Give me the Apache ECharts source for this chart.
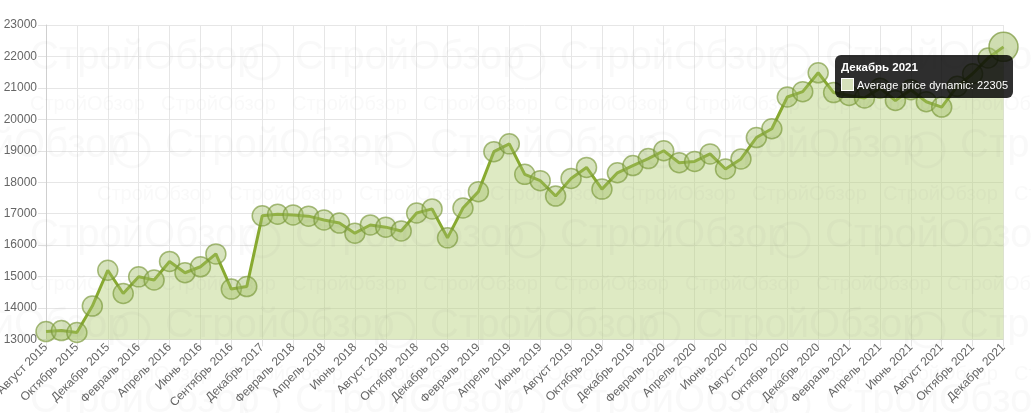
<!DOCTYPE html>
<html>
<head>
<meta charset="utf-8">
<script src="https://cdn.jsdelivr.net/npm/echarts@6/dist/echarts.min.js"></script>
<style>
html,body{margin:0;padding:0;background:#fff;}
#c{width:1031px;height:413px;}
</style>
</head>
<body>
<div id="c"></div>
<script>
var categories = [
 'Август 2015','Сентябрь 2015','Октябрь 2015','Ноябрь 2015','Декабрь 2015','Январь 2016',
 'Февраль 2016','Март 2016','Апрель 2016','Май 2016','Июнь 2016','Июль 2016',
 'Сентябрь 2016','Ноябрь 2016','Декабрь 2017','Январь 2018','Февраль 2018','Март 2018',
 'Апрель 2018','Май 2018','Июнь 2018','Июль 2018','Август 2018','Сентябрь 2018',
 'Октябрь 2018','Ноябрь 2018','Декабрь 2018','Январь 2019','Февраль 2019','Март 2019',
 'Апрель 2019','Май 2019','Июнь 2019','Июль 2019','Август 2019','Сентябрь 2019',
 'Октябрь 2019','Ноябрь 2019','Декабрь 2019','Январь 2020','Февраль 2020','Март 2020',
 'Апрель 2020','Май 2020','Июнь 2020','Июль 2020','Август 2020','Сентябрь 2020',
 'Октябрь 2020','Ноябрь 2020','Декабрь 2020','Январь 2021','Февраль 2021','Март 2021',
 'Апрель 2021','Май 2021','Июнь 2021','Июль 2021','Август 2021','Сентябрь 2021',
 'Октябрь 2021','Ноябрь 2021','Декабрь 2021'
];
var priceValues = [
 13250,13280,13220,14060,15200,14460,14990,14890,15480,15120,15310,15720,
 14600,14680,16930,16980,16960,16920,16800,16700,16380,16640,16570,16450,
 17020,17150,16230,17180,17700,18970,19220,18250,18050,17560,18120,18470,
 17780,18300,18530,18750,19000,18620,18660,18900,18420,18740,19420,19700,
 20710,20880,21480,20850,20760,20680,20990,20600,20940,20560,20390,21050,
 21450,21950,22305
];
var seriesName = 'Average price dynamic';
var yTicks = {min: 13000, max: 23000, step: 1000};
var highlightIndex = 62;

// faint watermark decoration
var wm = [];
var wmColor = 'rgba(110,110,110,0.045)';
var bigRows = [62, 150, 240, 330, 405];
var bigOffsets = [30, -100, 30, -100, 30];
bigRows.forEach(function(y, r){
  for (var x = bigOffsets[r]; x < 1100; x += 265) {
    wm.push({type:'text', left:x, top:y-24, z:100, silent:true,
      style:{text:'СтройОбзор', font:'40px "Liberation Sans", Arial, sans-serif', fill:wmColor}});
    wm.push({type:'circle', z:100, silent:true, shape:{cx:x+232, cy:y, r:17},
      style:{fill:'none', stroke:wmColor, lineWidth:3}});
  }
});
var smallRows = [105, 195, 285, 375];
var smallOffsets = [30, 97, 30, 97];
smallRows.forEach(function(y, r){
  for (var x = smallOffsets[r]; x < 1100; x += 131) {
    wm.push({type:'text', left:x, top:y-11, z:100, silent:true,
      style:{text:'СтройОбзор', font:'20px "Liberation Sans", Arial, sans-serif', fill:wmColor}});
  }
});

var chart = echarts.init(document.getElementById('c'), null, {renderer:'canvas'});
chart.setOption({
  animation: false,
  backgroundColor: '#fff',
  grid: {left: 46, right: 27.5, top: 25, bottom: 73.6, containLabel: false, outerBoundsMode: 'none'},
  tooltip: {
    trigger: 'item',
    alwaysShowContent: true,
    transitionDuration: 0,
    position: [835, 55],
    backgroundColor: 'rgba(0,0,0,0.82)',
    borderWidth: 0,
    borderRadius: 6,
    padding: [5, 5, 5, 6],
    extraCssText: 'box-shadow:none;',
    formatter: function(p){
      return '<div style="font:bold 11.5px Liberation Sans, Arial, sans-serif;color:#fff;line-height:15px;margin-bottom:3px">' + p.name + '</div>' +
        '<div style="font:11px Liberation Sans, Arial, sans-serif;color:#fff;line-height:15px;white-space:nowrap;letter-spacing:0.1px">' +
        '<span style="display:inline-block;width:11px;height:11px;background:#d6e1bb;border:1px solid #fff;vertical-align:-2px;margin-right:3px"></span>' +
        p.seriesName + ': ' + p.value + '</div>';
    }
  },
  xAxis: {
    type: 'category',
    data: categories,
    boundaryGap: false,
    axisLine: {show: true, lineStyle: {color: '#dcdcdc', width: 1}},
    axisTick: {show: true, interval: 1, length: 7, lineStyle: {color: '#e2e2e2'}},
    axisLabel: {interval: 1, rotate: 45, color: '#666', fontSize: 12,
      fontFamily: 'Liberation Sans, Arial, sans-serif', margin: 6},
    splitLine: {show: true, interval: 1, lineStyle: {color: '#e6e6e6', width: 1}}
  },
  yAxis: {
    type: 'value',
    min: yTicks.min, max: yTicks.max, interval: yTicks.step,
    axisLine: {show: true, lineStyle: {color: '#cfcfcf'}},
    axisTick: {show: true, length: 8, lineStyle: {color: '#e2e2e2'}},
    axisLabel: {color: '#666', fontSize: 12, fontFamily: 'Liberation Sans, Arial, sans-serif', margin: 9,
      formatter: function(v){ return String(v); }},
    splitLine: {show: true, lineStyle: {color: '#e6e6e6', width: 1}}
  },
  graphic: wm,
  series: [{
    name: seriesName,
    type: 'line',
    data: priceValues,
    smooth: false,
    symbol: 'circle',
    symbolSize: 20,
    showAllSymbol: true,
    lineStyle: {color: '#7c9b2c', width: 3},
    itemStyle: {color: 'rgba(160,188,100,0.42)', borderColor: 'rgba(120,150,55,0.65)', borderWidth: 1.5},
    areaStyle: {color: 'rgba(165,190,110,0.45)', opacity: 1},
    emphasis: {scale: 1.45, lineStyle: {width: 3},
      itemStyle: {color: 'rgba(160,188,100,0.5)', borderColor: 'rgba(120,150,55,0.7)', borderWidth: 1.5}},
    z: 2
  }]
});
chart.dispatchAction({type: 'highlight', seriesIndex: 0, dataIndex: highlightIndex});
chart.dispatchAction({type: 'showTip', seriesIndex: 0, dataIndex: highlightIndex});
</script>
</body>
</html>
